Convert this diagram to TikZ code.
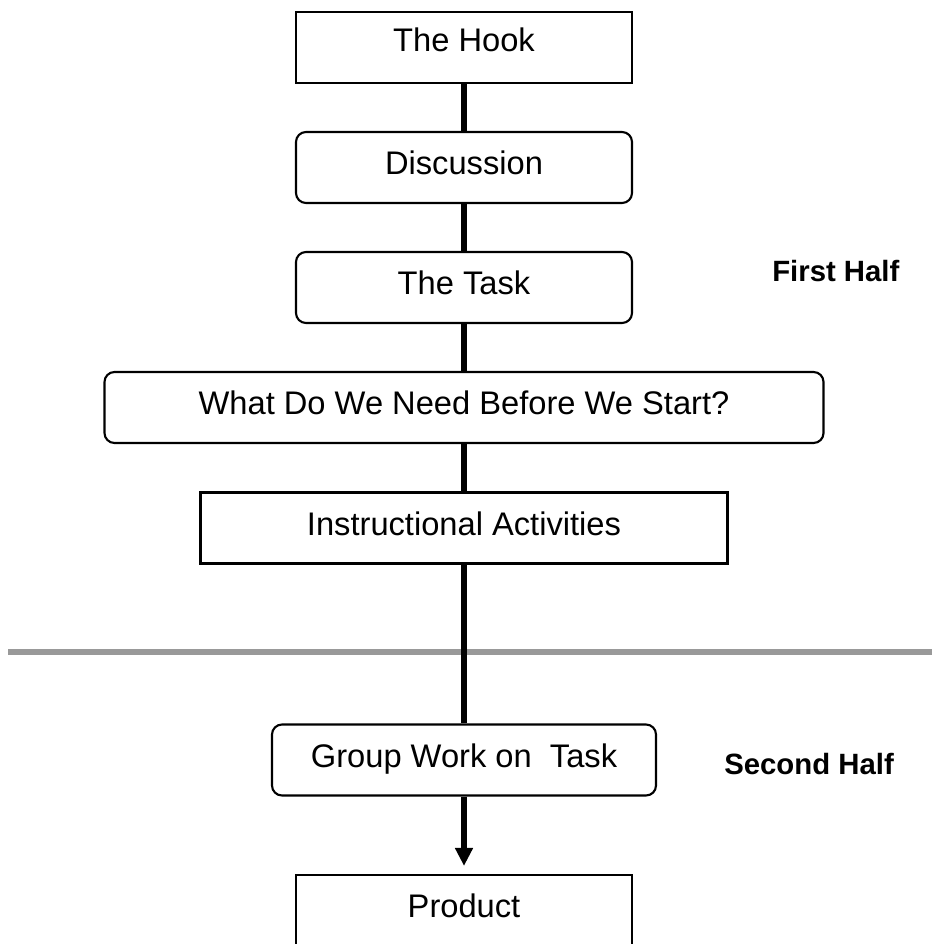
\documentclass[tikz,border=0pt]{standalone}
\usepackage{fontspec}
\setmainfont{Liberation Sans}
\usetikzlibrary{arrows.meta}

\begin{document}
\begin{tikzpicture}[x=0.75pt,y=0.75pt,yscale=-1,xscale=1,
    box/.style={draw, line width=1.6pt, inner xsep=0pt, inner ysep=0pt,
        text height=32pt, text depth=21.25pt, font=\fontsize{24.5}{28}\selectfont},
    roundbox/.style={box, rounded corners=7.5pt},
    link/.style={line width=4pt},
    halflabel/.style={anchor=base west, inner sep=0pt, font=\fontsize{22}{26}\selectfont\bfseries}]
        \useasboundingbox (0,0) rectangle (932,944);

        %Shape: Divider Line
        \draw [black!40, line width=4.5pt] (8,652) -- (932,652);

        % Boxes
        \draw (464,47.5) node [box, minimum width=252pt, text height=30pt, text depth=23.25pt] (hook) {The Hook};
        \draw (464,167.5) node [roundbox, minimum width=252pt] (disc) {Discussion};
        \draw (464,287.5) node [roundbox, minimum width=252pt] (task) {The Task};
        \draw (464,407.5) node [roundbox, minimum width=539.25pt] (need) {What Do We Need Before We Start?};
        \draw (464,528) node [box, minimum width=395.25pt] (instr) {Instructional Activities};
        \draw (464,760) node [roundbox, minimum width=288pt] (group) {Group Work on~~Task};
        \draw (464,910.5) node [box, minimum width=252pt] (product) {Product};

        % Connectors
        \draw [link] (hook) -- (disc);
        \draw [link] (disc) -- (task);
        \draw [link] (task) -- (need);
        \draw [link] (need) -- (instr);
        \draw [link] (instr) -- (group);
        \draw [link, -{Triangle[width=12.75pt,length=13.5pt]}, shorten >=6pt] (group) -- (product);

        % Text Node
        \draw (772,282) node [halflabel] (first) {First Half};
        % Text Node
        \draw (724,774) node [halflabel] (second) {Second Half};

\end{tikzpicture}
\end{document}
